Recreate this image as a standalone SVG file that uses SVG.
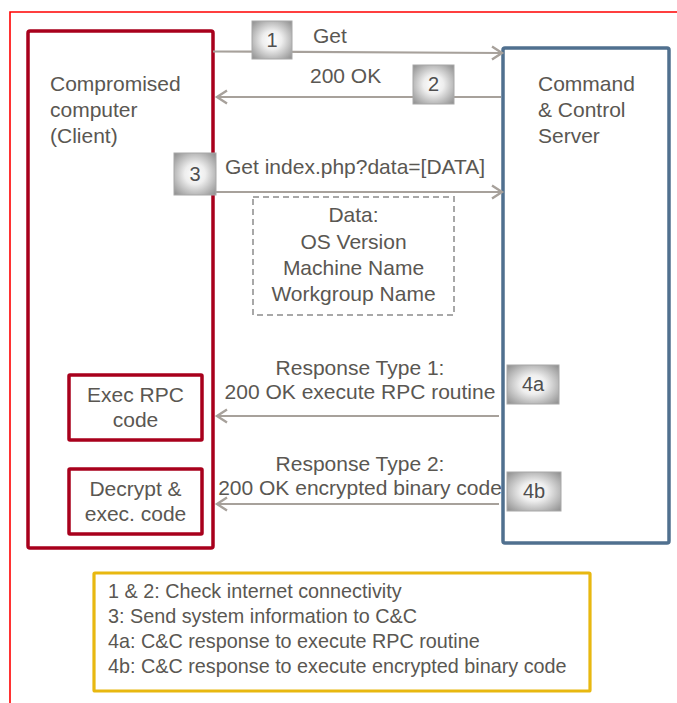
<svg xmlns="http://www.w3.org/2000/svg" width="677" height="703" viewBox="0 0 677 703">
  <style>
    .t { font-family: "Liberation Sans", Arial, sans-serif; font-size: 21px; fill: #5a5752; }
    .lg { font-family: "Liberation Sans", Arial, sans-serif; font-size: 19.8px; fill: #5a5752; }
    .mid { text-anchor: middle; }
    .client { fill: #ffffff; stroke: #a8001c; stroke-width: 3.5; }
    .server { fill: #ffffff; stroke: #50708f; stroke-width: 3.5; }
    .conn { fill: none; stroke: #a7a19b; stroke-width: 2.2; }
    .step { fill: url(#stepFill); stroke: #a8a8a8; stroke-width: 1; }
    .num { font-family: "Liberation Sans", Arial, sans-serif; font-size: 20px; fill: #4f4f4f; text-anchor: middle; }
  </style>
  <defs>
    <radialGradient id="stepFill" cx="50%" cy="50%" r="70%">
      <stop offset="0" stop-color="#ffffff"/>
      <stop offset="0.35" stop-color="#eeeeee"/>
      <stop offset="1" stop-color="#8c8c8c"/>
    </radialGradient>
    <marker id="arrow" markerUnits="userSpaceOnUse" markerWidth="14" markerHeight="16" refX="11" refY="8" orient="auto">
      <path d="M1,1.5 L11,8 L1,14.5" fill="none" stroke="#a7a19b" stroke-width="2.4"/>
    </marker>
  </defs>

  <rect width="677" height="703" fill="#ffffff"/>

  <!-- page frame -->
  <path d="M10,703 L10,12 L677,12" fill="none" stroke="#ff0000" stroke-width="1.6"/>

  <!-- client node -->
  <g id="client">
    <rect class="client" x="28" y="31" width="185" height="517" rx="2"/>
    <text class="t" x="50" y="91">Compromised</text>
    <text class="t" x="50" y="117">computer</text>
    <text class="t" x="50" y="143">(Client)</text>
  </g>

  <g id="exec-rpc">
    <rect class="client" x="69" y="375" width="133" height="65" rx="1"/>
    <text class="t mid" x="135.5" y="402">Exec RPC</text>
    <text class="t mid" x="135.5" y="427">code</text>
  </g>

  <g id="decrypt-exec">
    <rect class="client" x="69" y="469" width="133" height="65" rx="1"/>
    <text class="t mid" x="135.5" y="496">Decrypt &amp;</text>
    <text class="t mid" x="135.5" y="521">exec. code</text>
  </g>

  <!-- server node -->
  <g id="server">
    <rect class="server" x="503" y="48" width="166" height="495" rx="2"/>
    <text class="t" x="538" y="91">Command</text>
    <text class="t" x="538" y="117">&amp; Control</text>
    <text class="t" x="538" y="143">Server</text>
  </g>

  <!-- data payload note -->
  <g id="data-note">
    <rect x="253" y="197" width="201" height="118" fill="#ffffff" stroke="#a8a8a8" stroke-width="2" stroke-dasharray="6,4"/>
    <text class="t mid" x="353.5" y="222">Data:</text>
    <text class="t mid" x="353.5" y="249">OS Version</text>
    <text class="t mid" x="353.5" y="275">Machine Name</text>
    <text class="t mid" x="353.5" y="301">Workgroup Name</text>
  </g>

  <!-- connectors -->
  <g id="connectors">
    <line class="conn" x1="213" y1="51.5" x2="502" y2="53" marker-end="url(#arrow)"/>
    <line class="conn" x1="501" y1="97" x2="217" y2="97" marker-end="url(#arrow)"/>
    <line class="conn" x1="213" y1="192" x2="502" y2="192" marker-end="url(#arrow)"/>
    <line class="conn" x1="499" y1="416" x2="217" y2="416" marker-end="url(#arrow)"/>
    <line class="conn" x1="499" y1="504" x2="217" y2="504" marker-end="url(#arrow)"/>
  </g>

  <!-- connector labels -->
  <g id="labels">
    <text class="t" x="313" y="43">Get</text>
    <text class="t" x="310" y="83">200 OK</text>
    <text class="t" x="225" y="174">Get index.php?data=[DATA]</text>
    <text class="t mid" x="360" y="375">Response Type 1:</text>
    <text class="t mid" x="360" y="399">200 OK execute RPC routine</text>
    <text class="t mid" x="360" y="471">Response Type 2:</text>
    <text class="t mid" x="360" y="495">200 OK encrypted binary code</text>
  </g>

  <!-- step markers -->
  <g id="step-1">
    <rect class="step" x="252" y="21" width="40" height="38"/>
    <text class="num" x="272" y="47">1</text>
  </g>
  <g id="step-2">
    <rect class="step" x="413" y="65" width="41" height="39"/>
    <text class="num" x="433.5" y="91">2</text>
  </g>
  <g id="step-3">
    <rect class="step" x="174" y="153" width="42" height="42"/>
    <text class="num" x="195" y="181">3</text>
  </g>
  <g id="step-4a">
    <rect class="step" x="507" y="365" width="52" height="39"/>
    <text class="num" x="533" y="391">4a</text>
  </g>
  <g id="step-4b">
    <rect class="step" x="507" y="472" width="54" height="39"/>
    <text class="num" x="534" y="498">4b</text>
  </g>

  <!-- legend -->
  <g id="legend">
    <rect x="94" y="573" width="496" height="118" fill="#ffffff" stroke="#e8b810" stroke-width="3.2" rx="1"/>
    <text class="lg" x="108" y="598">1 &amp; 2: Check internet connectivity</text>
    <text class="lg" x="108" y="623">3: Send system information to C&amp;C</text>
    <text class="lg" x="108" y="648">4a: C&amp;C response to execute RPC routine</text>
    <text class="lg" x="108" y="673">4b: C&amp;C response to execute encrypted binary code</text>
  </g>
</svg>
